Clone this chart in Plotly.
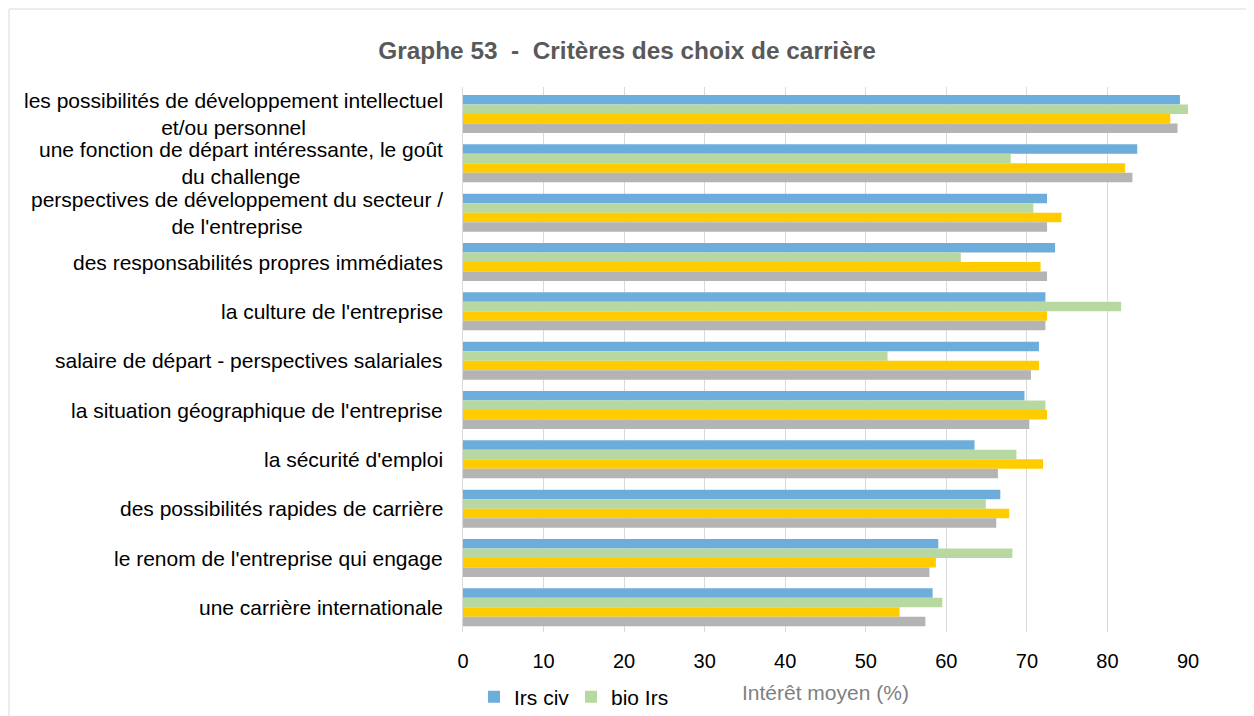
import plotly.graph_objects as go

categories = [
    "les possibilités de développement intellectuel<br>et/ou personnel",
    "une fonction de départ intéressante, le goût<br>du challenge",
    "perspectives de développement du secteur /<br>de l'entreprise",
    "des responsabilités propres immédiates",
    "la culture de l'entreprise",
    "salaire de départ - perspectives salariales",
    "la situation géographique de l'entreprise",
    "la sécurité d'emploi",
    "des possibilités rapides de carrière",
    "le renom de l'entreprise qui engage",
    "une carrière internationale",
]

irs_civ = [89.0, 83.7, 72.5, 73.5, 72.3, 71.5, 69.7, 63.5, 66.7, 59.0, 58.3]
bio_irs = [90.0, 68.0, 70.8, 61.8, 81.7, 52.7, 72.3, 68.7, 64.9, 68.2, 59.5]
serie_3 = [87.8, 82.2, 74.3, 71.7, 72.5, 71.5, 72.5, 72.0, 67.8, 58.7, 54.2]
serie_4 = [88.7, 83.1, 72.5, 72.5, 72.3, 70.5, 70.3, 66.4, 66.2, 57.9, 57.4]

x_ticks = [0, 10, 20, 30, 40, 50, 60, 70, 80, 90]

series = [
    ("Irs civ", irs_civ, "#6DADDC", True),
    ("bio Irs", bio_irs, "#B7D9A1", True),
    ("Série 3", serie_3, "#FFCC00", False),
    ("Série 4", serie_4, "#B4B4B4", False),
]

FONT = "Liberation Sans, Arial, sans-serif"

W, H = 1246, 708
L, R, T, B = 455, 66, 79, 84
PW, PH = W - L - R, H - T - B

fig = go.Figure()
for name, vals, color, show in series:
    fig.add_trace(go.Bar(
        y=categories, x=vals, name=name, orientation="h",
        marker=dict(color=color, line=dict(width=0)),
        showlegend=show,
    ))

annotations = []
for c in categories:
    annotations.append(dict(
        x=-18 / PW, xref="paper", y=c, yref="y", text=c,
        showarrow=False, xanchor="right", yanchor="middle", align="center",
        font=dict(family=FONT, size=21, color="#000000"),
    ))
annotations.append(dict(
    x=0.5, xref="paper", y=-60 / PH, yref="paper", text="Intérêt moyen (%)",
    showarrow=False, xanchor="center", yanchor="middle",
    font=dict(family=FONT, size=21, color="#7F7F7F"),
))

fig.update_layout(
    width=W, height=H,
    margin=dict(l=L, r=R, t=T, b=B, autoexpand=False),
    paper_bgcolor="white", plot_bgcolor="white",
    barmode="group", bargap=0.23, bargroupgap=0,
    font=dict(family=FONT, size=20, color="#000000"),
    title=dict(
        text="<b>Graphe 53  -  Critères des choix de carrière</b>",
        x=619 / W, xanchor="center", y=1 - 42 / H, yanchor="middle",
        font=dict(family=FONT, size=24.4, color="#595959"),
    ),
    xaxis=dict(
        range=[0, 90], tickvals=x_ticks, ticktext=[str(v) for v in x_ticks],
        showgrid=True, gridcolor="#D9D9D9", gridwidth=1,
        zeroline=False, showline=False,
        ticks="outside", ticklen=11, tickcolor="rgba(0,0,0,0)",
        tickfont=dict(family=FONT, size=20, color="#000000"),
    ),
    yaxis=dict(
        autorange="reversed", showticklabels=False, ticks="",
        showgrid=False, zeroline=False,
        showline=True, linecolor="#D9D9D9", linewidth=1,
    ),
    legend=dict(
        orientation="h", xref="container", yref="container",
        x=466 / W, xanchor="left", y=19 / H, yanchor="middle",
        font=dict(family=FONT, size=21, color="#000000"),
        bgcolor="rgba(0,0,0,0)", itemwidth=30, entrywidth=52,
    ),
    annotations=annotations,
    shapes=[dict(
        type="rect", xref="paper", yref="paper",
        x0=(1 - L) / PW, x1=(1241 - L) / PW,
        y0=-(B + 20) / PH, y1=(PH + T - 1) / PH,
        line=dict(color="#D9D9D9", width=1), fillcolor="rgba(0,0,0,0)",
        layer="below",
    )],
)

fig.write_html("out.html")
